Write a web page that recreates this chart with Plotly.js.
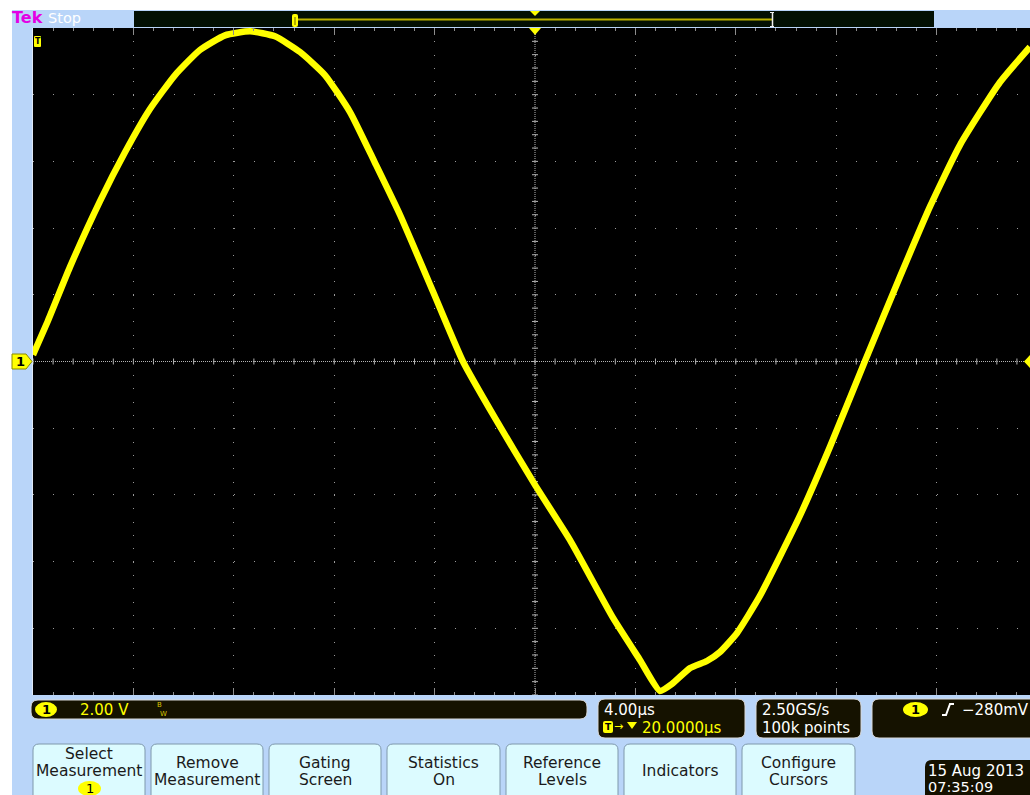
<!DOCTYPE html>
<html>
<head>
<meta charset="utf-8">
<script src="https://cdn.plot.ly/plotly-3.0.1.min.js"></script>
<style>
  html, body { margin: 0; padding: 0; background: #ffffff; overflow: hidden; }
  #scope { width: 1030px; height: 795px; }
</style>
</head>
<body>
<div id="scope"></div>
<script>
// Channel 1 record: time in µs from the trigger point, amplitude in volts
const timeUs = [0.00, 0.60, 1.47, 2.67, 3.67, 4.66, 5.66, 6.65, 7.65, 8.65,
                9.64, 10.64, 11.63, 12.63, 13.63, 14.62, 15.94, 17.13, 18.41, 20.00,
                21.39, 23.11, 24.18, 24.98, 25.46, 26.18, 26.85, 27.37, 28.05, 28.96,
                30.55, 31.75, 33.14, 34.54, 35.74, 36.93, 38.53, 39.72];
const ch1Volts = [0.20, 1.23, 2.83, 4.81, 6.28, 7.57, 8.59, 9.34, 9.78, 9.90,
                  9.75, 9.28, 8.59, 7.48, 5.95, 4.40, 2.09, 0.00, -1.70, -3.70,
                  -5.35, -7.69, -8.95, -9.88, -9.67, -9.19, -8.98, -8.71, -8.14, -7.03,
                  -4.63, -2.56, 0.00, 2.54, 4.65, 6.49, 8.38, 9.43];

// Scope settings shown in the readouts
const voltsPerDiv = 2.00;
const usPerDiv = 4.00;
const triggerDelayUs = 20.0;
const scaleText = '2.00 V';
const timebaseText = '4.00µs';
const delayText = '20.0000µs';
const sampleRateText = '2.50GS/s';
const recordText = '100k points';
const triggerLevelText = '−280mV';
const buttonLabels = [['Select', 'Measurement'], ['Remove', 'Measurement'], ['Gating', 'Screen'],
                      ['Statistics', 'On'], ['Reference', 'Levels'], ['Indicators'], ['Configure', 'Cursors']];
const dateText = '15 Aug 2013';
const clockText = '07:35:09';

// ---- screen geometry (pixels) ----
const W = 1030, H = 795;
const L = 33, T = 28, B = 695, R = 1030;
const divPx = 100.4;                       // one horizontal division
const xMax = (R - L) / divPx * usPerDiv;   // visible part of the 10-division record
const X = px => px / W;
const Y = py => 1 - py / H;
const FONT = 'DejaVu Sans, Verdana, sans-serif';
const YEL = '#ffff00';

function rrect(x0, y0, x1, y1, r) {
  return `M${X(x0 + r)},${Y(y0)} L${X(x1 - r)},${Y(y0)} Q${X(x1)},${Y(y0)} ${X(x1)},${Y(y0 + r)} ` +
         `L${X(x1)},${Y(y1 - r)} Q${X(x1)},${Y(y1)} ${X(x1 - r)},${Y(y1)} ` +
         `L${X(x0 + r)},${Y(y1)} Q${X(x0)},${Y(y1)} ${X(x0)},${Y(y1 - r)} ` +
         `L${X(x0)},${Y(y0 + r)} Q${X(x0)},${Y(y0)} ${X(x0 + r)},${Y(y0)} Z`;
}
function poly(pts) {
  return 'M' + pts.map(p => `${X(p[0])},${Y(p[1])}`).join(' L') + ' Z';
}
function pathShape(d, fill, line, lw, layer) {
  return { type: 'path', xref: 'paper', yref: 'paper', path: d, fillcolor: fill,
           line: { color: line || fill, width: lw === undefined ? 0 : lw }, layer: layer || 'above' };
}
function pxLine(x0, y0, x1, y1, color, w) {
  return { type: 'line', xref: 'paper', yref: 'paper', x0: X(x0), y0: Y(y0), x1: X(x1), y1: Y(y1),
           line: { color: color, width: w } };
}
function oval(x0, y0, x1, y1) {
  return { type: 'circle', xref: 'paper', yref: 'paper', x0: X(x0), x1: X(x1), y0: Y(y1), y1: Y(y0),
           fillcolor: YEL, line: { width: 0 } };
}
function txt(s, x, y, size, color, anchor, bold) {
  return { text: bold ? '<b>' + s + '</b>' : s, xref: 'paper', yref: 'paper', x: X(x), y: Y(y),
           xanchor: anchor || 'left', yanchor: 'middle', showarrow: false, borderpad: 0,
           font: { family: FONT, size: size, color: color } };
}

const shapes = [];
const annotations = [];

// white border of the screen capture
shapes.push({ type: 'rect', xref: 'paper', yref: 'paper', x0: 0, x1: X(12), y0: 0, y1: 1,
              fillcolor: '#ffffff', line: { width: 0 } });
shapes.push({ type: 'rect', xref: 'paper', yref: 'paper', x0: 0, x1: 1, y0: Y(10), y1: 1,
              fillcolor: '#ffffff', line: { width: 0 } });

// graticule centre lines with their 1/5-division marks
const centreT = triggerDelayUs;
shapes.push({ type: 'line', xref: 'x', yref: 'y', x0: 0, x1: xMax, y0: 0, y1: 0,
              line: { color: '#b4b4b4', width: 1, dash: '1px,1px' }, layer: 'below' });
shapes.push({ type: 'line', xref: 'x', yref: 'y', x0: centreT, x1: centreT, y0: -5 * voltsPerDiv, y1: 5 * voltsPerDiv,
              line: { color: '#b4b4b4', width: 1, dash: '1px,1px' }, layer: 'below' });
const tickHalfV = 3 / (B - T) * 10 * voltsPerDiv;
const tickHalfT = 3 / divPx * usPerDiv;
for (let k = 0; k <= 50; k++) {
  const t = k * usPerDiv / 5;
  if (t > xMax) break;
  shapes.push({ type: 'line', xref: 'x', yref: 'y', x0: t, x1: t, y0: -tickHalfV, y1: tickHalfV,
                line: { color: '#b4b4b4', width: 1 }, layer: 'below' });
}
for (let k = 0; k <= 50; k++) {
  const v = -5 * voltsPerDiv + k * voltsPerDiv / 5;
  shapes.push({ type: 'line', xref: 'x', yref: 'y', x0: centreT - tickHalfT, x1: centreT + tickHalfT, y0: v, y1: v,
                line: { color: '#b4b4b4', width: 1 }, layer: 'below' });
}
// light edge on the left of the graticule
shapes.push(pxLine(32.5, T, 32.5, B, '#dfe9f8', 1));

// record view bar at the top
shapes.push({ type: 'rect', xref: 'paper', yref: 'paper', x0: X(134), x1: X(934), y0: Y(27), y1: Y(11),
              fillcolor: '#031003', line: { width: 0 } });
shapes.push(pxLine(297, 19.5, 772, 19.5, '#bdb300', 2));
shapes.push(pathShape(rrect(292, 14, 298, 27, 2), YEL));
shapes.push(pxLine(295, 17, 295, 25, '#6b6400', 1));
shapes.push(pxLine(772.5, 12, 772.5, 27, '#f0f0f0', 1.5));
shapes.push(pxLine(770, 12.5, 774, 12.5, '#f0f0f0', 1));
shapes.push(pxLine(770, 26.5, 774, 26.5, '#f0f0f0', 1));
shapes.push(pathShape(poly([[530, 11], [540, 11], [535, 16]]), YEL));

// trigger position, channel and trigger-level markers
shapes.push(pathShape(poly([[529, 28], [541, 28], [535, 35]]), YEL));
shapes.push(pathShape(poly([[12, 354], [26, 354], [32, 361.5], [26, 369], [12, 369]]), YEL, '#8a8a00', 1));
annotations.push(txt('1', 20, 361.5, 13, '#000000', 'center', true));
shapes.push(pathShape(poly([[1030, 355], [1024, 361.5], [1030, 368]]), YEL));
shapes.push(pathShape(rrect(34, 36, 41, 47, 1), YEL));
annotations.push(txt('T', 37.5, 41.5, 8, '#000000', 'center', true));

// header text
annotations.push(txt('Tek', 11, 18, 16, '#e400e4', 'left', true));
annotations.push(txt('Stop', 47, 18.5, 14.5, '#ffffff', 'left'));

// readout boxes
const boxFill = '#151200';
shapes.push(pathShape(rrect(31, 700, 587, 719, 7), boxFill, '#d9d9d9', 1));
shapes.push(oval(35, 702, 57, 717));
annotations.push(txt('1', 46, 709.5, 13, '#000000', 'center', true));
annotations.push(txt(scaleText, 79, 709.5, 15, YEL));
annotations.push(txt('B', 156, 704.5, 7, '#d8c400'));
annotations.push(txt('W', 159, 714, 7, '#d8c400'));

shapes.push(pathShape(rrect(598, 699, 745, 738, 7), boxFill, '#d9d9d9', 1));
annotations.push(txt(timebaseText, 603, 709.5, 15, '#ffffff'));
shapes.push(pathShape(rrect(603, 721, 613, 733, 2), YEL));
annotations.push(txt('T', 608, 727, 9, '#000000', 'center', true));
annotations.push(txt('→', 613, 726, 11, YEL));
shapes.push(pathShape(poly([[627, 722], [637, 722], [632, 729]]), YEL));
annotations.push(txt(delayText, 641, 727.5, 15, YEL));

shapes.push(pathShape(rrect(756, 699, 861, 738, 7), boxFill, '#d9d9d9', 1));
annotations.push(txt(sampleRateText, 761, 709.5, 15, '#ffffff'));
annotations.push(txt(recordText, 761, 727.5, 15, '#ffffff'));

shapes.push(pathShape(rrect(872, 699, 1050, 738, 7), boxFill, '#d9d9d9', 1));
shapes.push(oval(903, 702, 928, 717));
annotations.push(txt('1', 915.5, 709.5, 13, '#000000', 'center', true));
shapes.push({ type: 'path', xref: 'paper', yref: 'paper',
              path: `M${X(942)},${Y(715)} L${X(946)},${Y(715)} L${X(950)},${Y(704)} L${X(954)},${Y(704)}`,
              line: { color: '#ffffff', width: 2 } });
annotations.push(txt(triggerLevelText, 961, 709.5, 15, '#ffffff'));

// soft-key buttons
const buttonX = [[33, 145], [151, 263], [269, 381], [387, 500], [506, 618], [624, 736], [742, 855]];
buttonLabels.forEach((lines, i) => {
  const [x0, x1] = buttonX[i];
  const cx = (x0 + x1) / 2;
  shapes.push(pathShape(rrect(x0, 744, x1, 812, 6), '#dcfbff', '#7f98ab', 1));
  if (i === 0) {
    annotations.push(txt(lines[0], cx, 753.5, 15.5, '#1a1a1a', 'center'));
    annotations.push(txt(lines[1], cx, 771, 15.5, '#1a1a1a', 'center'));
    shapes.push(oval(78, 781, 101, 796));
    annotations.push(txt('1', 89.5, 788.5, 13, '#000000', 'center'));
  } else if (lines.length === 2) {
    annotations.push(txt(lines[0], cx, 762.5, 15.5, '#1a1a1a', 'center'));
    annotations.push(txt(lines[1], cx, 780, 15.5, '#1a1a1a', 'center'));
  } else {
    annotations.push(txt(lines[0], cx, 771, 15.5, '#1a1a1a', 'center'));
  }
});

// date and time
shapes.push(pathShape(rrect(925, 760, 1050, 812, 7), '#141100'));
annotations.push(txt(dateText, 927, 771, 15, '#ffffff'));
annotations.push(txt(clockText, 927, 786.5, 14.5, '#ffffff'));

const trace = {
  x: timeUs,
  y: ch1Volts,
  type: 'scatter',
  mode: 'lines',
  line: { color: '#ffff00', width: 6.5, shape: 'spline', smoothing: 0.5 },
  hoverinfo: 'skip'
};

const layout = {
  width: W,
  height: H,
  margin: { l: 0, r: 0, t: 0, b: 0, pad: 0 },
  paper_bgcolor: '#b9d5f9',
  plot_bgcolor: '#000000',
  showlegend: false,
  xaxis: {
    domain: [X(L), X(R)],
    range: [0, xMax],
    tick0: 0, dtick: usPerDiv,
    showgrid: true, gridcolor: '#9a9a9a', gridwidth: 1, griddash: '1px,12.34px',
    zeroline: false, showline: false, showticklabels: false,
    ticks: 'inside', ticklen: 7, tickcolor: '#8c8c8c', tickwidth: 1, mirror: 'ticks',
    minor: { ticks: 'inside', ticklen: 3, dtick: usPerDiv / 5, tick0: 0, tickcolor: '#8c8c8c', tickwidth: 1, showgrid: false },
    fixedrange: true
  },
  yaxis: {
    domain: [Y(B), Y(T)],
    range: [-5 * voltsPerDiv, 5 * voltsPerDiv],
    tick0: 0, dtick: voltsPerDiv,
    showgrid: true, gridcolor: '#9a9a9a', gridwidth: 1, griddash: '1px,19.08px',
    zeroline: false, showline: false, showticklabels: false, ticks: '',
    fixedrange: true
  },
  shapes: shapes,
  annotations: annotations
};

Plotly.newPlot('scope', [trace], layout, { staticPlot: true, displayModeBar: false });
</script>
</body>
</html>
